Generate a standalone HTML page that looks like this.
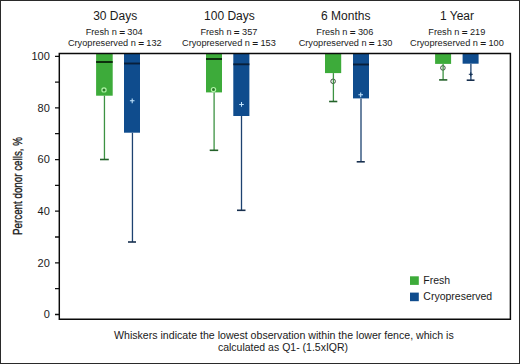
<!DOCTYPE html>
<html><head><meta charset="utf-8">
<style>
html,body{margin:0;padding:0;background:#fff;}
svg{display:block;}
text{font-family:"Liberation Sans",sans-serif;fill:#1a1a1a;}
</style></head>
<body>
<svg width="520" height="364" viewBox="0 0 520 364">
<rect x="0" y="0" width="520" height="364" fill="#fff"/>

<!-- column headers -->
<g font-size="12" text-anchor="middle">
<text x="115.2" y="19.5">30 Days</text>
<text x="229.4" y="19.5">100 Days</text>
<text x="345.8" y="19.5">6 Months</text>
<text x="457" y="19.5">1 Year</text>
</g>
<g font-size="9.2" text-anchor="middle">
<text x="114.2" y="35.1">Fresh n <tspan stroke="#1a1a1a" stroke-width="0.45">=</tspan> 304</text>
<text x="114.8" y="46.4">Cryopreserved n <tspan stroke="#1a1a1a" stroke-width="0.45">=</tspan> 132</text>
<text x="228.9" y="35.1">Fresh n <tspan stroke="#1a1a1a" stroke-width="0.45">=</tspan> 357</text>
<text x="228.9" y="46.4">Cryopreserved n <tspan stroke="#1a1a1a" stroke-width="0.45">=</tspan> 153</text>
<text x="344.8" y="35.1">Fresh n <tspan stroke="#1a1a1a" stroke-width="0.45">=</tspan> 306</text>
<text x="345.5" y="46.4">Cryopreserved n <tspan stroke="#1a1a1a" stroke-width="0.45">=</tspan> 130</text>
<text x="456.8" y="35.1">Fresh n <tspan stroke="#1a1a1a" stroke-width="0.45">=</tspan> 219</text>
<text x="456.9" y="46.4">Cryopreserved n <tspan stroke="#1a1a1a" stroke-width="0.45">=</tspan> 100</text>
</g>

<!-- y axis labels -->
<g font-size="11" text-anchor="end">
<text x="49.8" y="59.9">100</text>
<text x="49.8" y="111.5">80</text>
<text x="49.8" y="163.2">60</text>
<text x="49.8" y="214.8">40</text>
<text x="49.8" y="266.5">20</text>
<text x="49.8" y="318.1">0</text>
</g>
<text font-size="13.5" text-anchor="middle" stroke="#1a1a1a" stroke-width="0.35" transform="translate(21.5,186) rotate(-90) scale(0.725,1)">Percent donor cells, %</text>

<!-- ticks -->
<g stroke="#111" stroke-width="1.3">
<path d="M55 56.3H59.5M55 82.1H59.5M55 107.9H59.5M55 133.7H59.5M55 159.6H59.5M55 185.4H59.5M55 211.2H59.5M55 237H59.5M55 262.9H59.5M55 288.7H59.5M55 314.5H59.5"/>
</g>

<!-- boxes: G1 -->
<rect x="96.1" y="53.5" width="16.6" height="42.2" fill="#3dab3a"/>
<rect x="124" y="53.5" width="16" height="79.2" fill="#0f4c8d"/>
<!-- G2 -->
<rect x="206" y="53.5" width="16" height="38.9" fill="#3dab3a"/>
<rect x="233.3" y="53.5" width="16.1" height="62.5" fill="#0f4c8d"/>
<!-- G3 -->
<rect x="325" y="53.5" width="16.2" height="19.6" fill="#3dab3a"/>
<rect x="353" y="53.5" width="16" height="44.9" fill="#0f4c8d"/>
<!-- G4 -->
<rect x="435.1" y="53.5" width="16" height="10.4" fill="#3dab3a"/>
<rect x="462.6" y="53.5" width="16" height="10.2" fill="#0f4c8d"/>

<!-- medians -->
<g stroke-width="1.9">
<path d="M96.1 62H112.7" stroke="#0b2a0b"/>
<path d="M124 63.5H140" stroke="#081f3a"/>
<path d="M206 59H222" stroke="#0b2a0b"/>
<path d="M233.3 64.3H249.4" stroke="#081f3a"/>
<path d="M353 64.5H369" stroke="#081f3a"/>
</g>

<!-- whiskers green -->
<circle cx="333.1" cy="81.3" r="2.3" fill="none" stroke="#2a3a2a" stroke-width="0.9"/>
<circle cx="442.9" cy="67.9" r="2.3" fill="none" stroke="#2a3a2a" stroke-width="0.9"/>
<g stroke="#3c9242" stroke-width="1.3">
<path d="M104.45 95.7V159.5"/>
<path d="M214.1 92.4V150.3"/>
<path d="M333.4 73.1V101.5"/>
<path d="M443.1 63.9V79.9"/>
</g>
<g stroke="#24612a" stroke-width="1.6">
<path d="M100 159.5H108.8"/>
<path d="M209.7 150.3H218.2"/>
<path d="M329.1 101.5H337.3"/>
<path d="M439.1 79.9H447.3"/>
</g>
<!-- whiskers blue -->
<g stroke="#1d4270" stroke-width="1.3">
<path d="M132.45 132.7V242"/>
<path d="M241.5 116V210.3"/>
<path d="M361 98.4V161.8"/>
<path d="M470.9 63.7V80.2"/>
</g>
<g stroke="#18304f" stroke-width="1.6">
<path d="M128 242H136"/>
<path d="M237 210.3H245.5"/>
<path d="M356.7 161.8H364.8"/>
<path d="M466.7 80.2H474.5"/>
</g>

<!-- mean markers -->
<circle cx="104" cy="89.9" r="2.1" fill="#2a7a28" stroke="#b0f5a8" stroke-width="1.2"/>
<circle cx="213.5" cy="89.6" r="2.1" fill="#2a7a28" stroke="#b0f5a8" stroke-width="1.2"/>
<g stroke="#c4e6ff" stroke-width="1.05">
<path d="M129.9 100.8H134.5M132.2 98.4V103.2"/>
<path d="M239.2 104.4H243.8M241.5 102V106.8"/>
<path d="M358.4 94.8H363M360.7 92.4V97.2"/>
</g>
<path d="M468.8 74.3H472.8M470.8 72.3V76.3" stroke="#0c2a4d" stroke-width="1"/>

<!-- frame -->
<path d="M59.3 53.5H510.4V319.2H59.3Z" fill="none" stroke="#0a0a0a" stroke-width="1.45"/>

<!-- legend -->
<rect x="410" y="276.3" width="8.8" height="8.6" fill="#3dab3a"/>
<rect x="410" y="292.6" width="8.8" height="8.6" fill="#0f4c8d"/>
<g font-size="10.5">
<text x="423.3" y="283.6">Fresh</text>
<text x="423.3" y="300">Cryopreserved</text>
</g>

<!-- footer -->
<g font-size="10.5" text-anchor="middle">
<text x="283.9" y="338.5" font-size="10.6">Whiskers indicate the lowest observation within the lower fence, which is</text>
<text x="283" y="351">calculated as Q1- (1.5xIQR)</text>
</g>

<!-- outer border -->
<rect x="0.5" y="0.5" width="519" height="363" fill="none" stroke="#2a2a2a" stroke-width="1"/>
</svg>
</body></html>
